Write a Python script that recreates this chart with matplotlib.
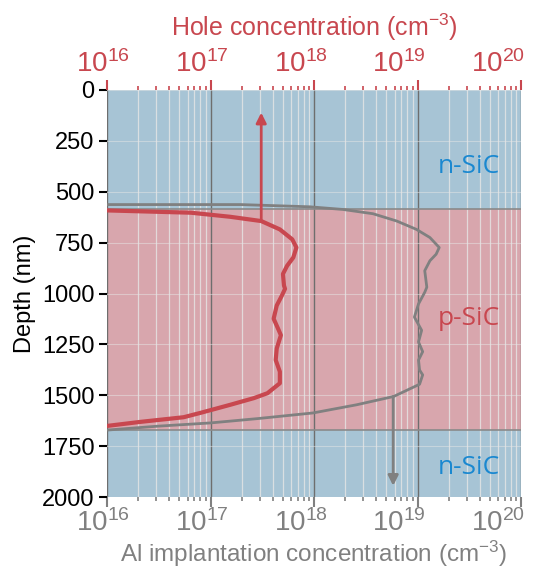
import matplotlib
matplotlib.use("Agg")
import matplotlib.pyplot as plt
import matplotlib.transforms as mtransforms
from matplotlib.ticker import LogLocator, NullFormatter
import numpy as np

# depth profiles (depth in nm, log10 of concentration)
hole_depth = [591, 603, 623, 644, 685, 734, 774, 823, 864, 904, 961, 977, 1010, 1059,
              1124, 1181, 1205, 1270, 1327, 1384, 1441, 1490, 1514, 1547, 1587, 1608,
              1631, 1652]
hole_log = [15.95, 16.81, 17.19, 17.49, 17.67, 17.79, 17.83, 17.80, 17.74, 17.70, 17.71,
            17.72, 17.69, 17.64, 17.61, 17.66, 17.68, 17.64, 17.63, 17.67, 17.67, 17.55,
            17.42, 17.19, 16.90, 16.74, 16.32, 15.98]

al_depth = [563, 563, 574, 587, 608, 644, 685, 725, 774, 807, 839, 888, 969, 994, 1051,
            1116, 1181, 1238, 1286, 1327, 1376, 1400, 1446, 1506, 1547, 1587, 1615, 1636,
            1652, 1672]
al_log = [15.95, 17.29, 17.96, 18.28, 18.57, 18.80, 18.99, 19.12, 19.21, 19.18, 19.12,
          19.07, 19.09, 19.07, 19.01, 18.97, 19.04, 19.01, 19.05, 19.01, 19.02, 19.05,
          19.02, 18.77, 18.41, 17.99, 17.45, 17.00, 16.49, 15.98]

x_ticks = [1e16, 1e17, 1e18, 1e19, 1e20]
x_labels = ["$10^{16}$", "$10^{17}$", "$10^{18}$", "$10^{19}$", "$10^{20}$"]
y_ticks = [0, 250, 500, 750, 1000, 1250, 1500, 1750, 2000]

p_top, p_bottom = 584, 1672
hole_arrow = (10**17.49, 644, 111)
al_arrow = (10**18.765, 1506, 1945)

blue_bg = "#a7c4d5"
pink_bg = "#d8a6ad"
red = "#c8474f"
grey = "#808080"
label_blue = "#1a88d0"

plt.rcParams["font.family"] = ["Liberation Sans", "DejaVu Sans"]
plt.rcParams["mathtext.fontset"] = "custom"
plt.rcParams["mathtext.rm"] = "Liberation Sans"
plt.rcParams["mathtext.it"] = "Liberation Sans"

fig = plt.figure(figsize=(5.45, 5.74), dpi=100)
ax = fig.add_axes([107/545, 1 - 497/574, 414/545, 407/574])

ax.set_xscale("log")
ax.set_xlim(1e16, 1e20)
ax.set_ylim(2000, 0)
ax.set_yticks(y_ticks)
ax.set_xticks(x_ticks)
ax.set_xticklabels(x_labels)
ax.xaxis.set_minor_locator(LogLocator(base=10, subs=np.arange(2, 10), numticks=100))
ax.xaxis.set_minor_formatter(NullFormatter())

ax.axhspan(0, p_top, color=blue_bg, zorder=0, lw=0)
ax.axhspan(p_top, p_bottom, color=pink_bg, zorder=0, lw=0)
ax.axhspan(p_bottom, 2000, color=blue_bg, zorder=0, lw=0)
ax.axhline(p_top, color="#8a8a8a", lw=1.2, zorder=1)
ax.axhline(p_bottom, color="#8a8a8a", lw=1.2, zorder=1)

ax.grid(True, which="major", axis="x", color="#6e6e6e", lw=1.0, zorder=1)
ax.grid(True, which="minor", axis="x", color="#e6e6e6", lw=0.9, alpha=0.8, zorder=1)
ax.grid(True, which="major", axis="y", color="#e6e6e6", lw=0.8, alpha=0.5, zorder=1)
ax.set_axisbelow(True)

ax.plot(10**np.array(al_log), al_depth, color=grey, lw=2, zorder=3)
ax.plot(10**np.array(hole_log), hole_depth, color=red, lw=3, zorder=4)

ax.annotate("", xy=(hole_arrow[0], hole_arrow[2]), xytext=(hole_arrow[0], hole_arrow[1]),
            arrowprops=dict(arrowstyle="-|>", color=red, lw=2, mutation_scale=15,
                            shrinkA=0, shrinkB=0), zorder=5)
ax.annotate("", xy=(al_arrow[0], al_arrow[2]), xytext=(al_arrow[0], al_arrow[1]),
            arrowprops=dict(arrowstyle="-|>", color=grey, lw=2, mutation_scale=15,
                            shrinkA=0, shrinkB=0), zorder=5)

ax.text(10**19.5, 377, "n-SiC", color=label_blue, fontsize=19, family="Open Sans",
        ha="center", va="center")
ax.text(10**19.5, 1124, "p-SiC", color=red, fontsize=19, family="Open Sans",
        ha="center", va="center")
ax.text(10**19.5, 1856, "n-SiC", color=label_blue, fontsize=19, family="Open Sans",
        ha="center", va="center")

for s in ax.spines.values():
    s.set_visible(False)

ax.tick_params(axis="y", which="major", length=6, width=1.5, color="black",
               labelsize=17, labelcolor="black", pad=3)
ax.tick_params(axis="x", which="major", length=7, width=1.5, color=grey,
               labelsize=20, labelcolor=grey, pad=2)
ax.tick_params(axis="x", which="minor", length=3, width=1.2, color=grey)
ax.set_ylabel("Depth (nm)", fontsize=17, labelpad=4)
ax.set_xlabel("Al implantation concentration (cm$^{-3}$)", fontsize=17.5, color=grey,
              labelpad=1)

ax2 = ax.twiny()
ax2.set_xscale("log")
ax2.set_xlim(1e16, 1e20)
ax2.set_xticks(x_ticks)
ax2.set_xticklabels(x_labels)
ax2.xaxis.set_minor_locator(LogLocator(base=10, subs=np.arange(2, 10), numticks=100))
ax2.xaxis.set_minor_formatter(NullFormatter())
for s in ax2.spines.values():
    s.set_visible(False)
ax2.tick_params(axis="x", which="major", length=7, width=1.5, color=red,
                labelsize=20, labelcolor=red, pad=2)
ax2.tick_params(axis="x", which="minor", length=3, width=1.2, color=red)
ax2.set_xlabel("Hole concentration (cm$^{-3}$)", fontsize=18, color=red, labelpad=10)

# labels in the reference drift left of their ticks, more so to the right
shifts = [-4.5, -8.5, -13, -19, -22.5]
for axis_obj in (ax.xaxis, ax2.xaxis):
    for tick, dx in zip(axis_obj.get_major_ticks(), shifts):
        off = mtransforms.ScaledTranslation(dx / 100, 0, fig.dpi_scale_trans)
        tick.label1.set_transform(tick.label1.get_transform() + off)
        tick.label2.set_transform(tick.label2.get_transform() + off)

fig.savefig("out.png", dpi=100)
